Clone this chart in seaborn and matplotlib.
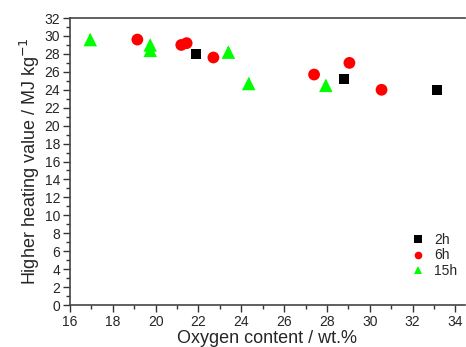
import pandas as pd
import matplotlib
matplotlib.use("Agg")
import matplotlib.pyplot as plt
import seaborn as sns
from matplotlib.ticker import MultipleLocator

# Data
oxygen_2h = [21.9, 28.8, 33.15]
hhv_2h = [28.0, 25.2, 24.0]

oxygen_6h = [19.15, 21.2, 21.45, 22.7, 27.4, 29.05, 30.55]
hhv_6h = [29.6, 29.0, 29.2, 27.6, 25.7, 27.0, 24.0]

oxygen_15h = [16.95, 19.75, 19.75, 23.4, 24.35, 27.95]
hhv_15h = [29.6, 29.0, 28.4, 28.2, 24.7, 24.5]

series = ["2h", "6h", "15h"]

df = pd.concat([
    pd.DataFrame({"Oxygen": oxygen_2h, "HHV": hhv_2h, "Time": "2h"}),
    pd.DataFrame({"Oxygen": oxygen_6h, "HHV": hhv_6h, "Time": "6h"}),
    pd.DataFrame({"Oxygen": oxygen_15h, "HHV": hhv_15h, "Time": "15h"}),
])

sns.set_style("ticks")
plt.rcParams['font.family'] = ['Liberation Sans', 'DejaVu Sans']

fig = plt.figure(figsize=(4.66, 3.47), dpi=100)
ax = fig.add_axes([0.150, 0.121, 0.848, 0.827])

palette = {"2h": "black", "6h": "red", "15h": "#00ff00"}
markers = {"2h": "s", "6h": "o", "15h": "^"}
sizes = {"2h": 48, "6h": 72, "15h": 95}

# small error bars on the 15h points
ax.errorbar(oxygen_15h, hhv_15h, yerr=0.6, fmt="none", ecolor="#00ff00",
            elinewidth=1.2, capsize=0, zorder=2)

sns.scatterplot(data=df, x="Oxygen", y="HHV", hue="Time", style="Time", size="Time",
                hue_order=series, style_order=series, size_order=series,
                palette=palette, markers=markers, sizes=sizes, linewidth=0,
                ax=ax, zorder=3)

ax.set_xlim(16, 34.45)
ax.set_ylim(0, 32)
ax.xaxis.set_major_locator(MultipleLocator(2))
ax.xaxis.set_minor_locator(MultipleLocator(1))
ax.yaxis.set_major_locator(MultipleLocator(2))
ax.yaxis.set_minor_locator(MultipleLocator(1))
ax.tick_params(which="major", direction="out", length=5, width=1, labelsize=10,
               color="#333333", pad=2)
ax.tick_params(which="minor", direction="out", length=3, width=1, color="#333333")

for side in ["left", "bottom", "top"]:
    ax.spines[side].set_color("#444444")
    ax.spines[side].set_linewidth(1.2)
ax.spines["right"].set_visible(False)

ax.set_xlabel("Oxygen content / wt.%", fontsize=13, labelpad=1)
ax.set_ylabel("Higher heating value / MJ kg$^{-1}$", fontsize=13, labelpad=2)

handles, labels = ax.get_legend_handles_labels()
for h in handles:
    h.set_markersize(5.5)
leg = ax.legend(handles, labels, loc="lower right", bbox_to_anchor=(1.012, 0.05),
                frameon=False, fontsize=10, handlelength=1.0, handletextpad=0.7,
                labelspacing=0.12, title=None)

fig.savefig("out.png", dpi=100)
